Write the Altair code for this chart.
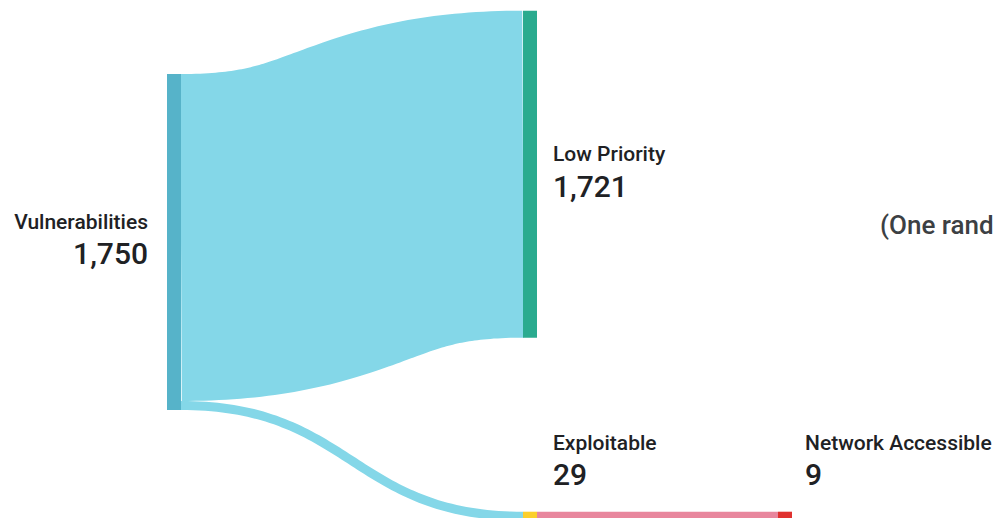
import altair as alt
import numpy as np
import pandas as pd

# ---- data ----
node_names = ["Vulnerabilities", "Low Priority", "Exploitable", "Network Accessible"]
node_values = [1750, 1721, 29, 9]
link_sources = ["Vulnerabilities", "Vulnerabilities", "Exploitable"]
link_targets = ["Low Priority", "Exploitable", "Network Accessible"]
link_values = [1721, 29, 9]
note_text = "(One rand"

# ---- style / layout ----
W, H = 985, 510
node_colors = ["#56b3c9", "#2aab8f", "#fbcf2c", "#e0312f"]
link_colors = ["#84d7e8", "#84d7e8", "#e8869d"]
node_x = [159, 515, 515, 770]
node_top = [66, 2.7, 503.7, 503.7]
NODE_W = 14
PX_PER_UNIT = 0.19
MIN_PX = 9
label_dx = [-19, 16, 16, 13]
TEXT_COLOR = "#202124"
FONT = "Roboto"
NAME_SIZE = 21
VALUE_SIZE = 30
NOTE_SIZE = 26

thick = [max(v * PX_PER_UNIT, MIN_PX) for v in link_values]
idx = {n: i for i, n in enumerate(node_names)}

out_sum = [0.0] * len(node_names)
in_sum = [0.0] * len(node_names)
link_rows = []
for s, t, v, th, c in zip(link_sources, link_targets, link_values, thick, link_colors):
    si, ti = idx[s], idx[t]
    y0 = node_top[si] + out_sum[si] + th / 2
    y1 = node_top[ti] + in_sum[ti] + th / 2
    out_sum[si] += th
    in_sum[ti] += th
    x0 = node_x[si] + NODE_W
    x1 = node_x[ti]
    link_rows.append((s + "→" + t, x0, y0, x1, y1, th, c))

node_h = [max(o, i) for o, i in zip(out_sum, in_sum)]

xs = alt.Scale(domain=[0, W], nice=False, zero=False)
ys = alt.Scale(domain=[0, H], nice=False, zero=False, reverse=True)

layers = []
for name, x0, y0, x1, y1, th, c in link_rows:
    tt = np.linspace(0, 1, 80)
    xm = (x0 + x1) / 2
    bx = (1 - tt) ** 3 * x0 + 3 * (1 - tt) ** 2 * tt * xm + 3 * (1 - tt) * tt ** 2 * xm + tt ** 3 * x1
    by = y0 + (y1 - y0) * (3 * tt ** 2 - 2 * tt ** 3)
    df = pd.DataFrame({"x": bx, "y": by, "o": np.arange(len(tt))})
    layers.append(
        alt.Chart(df).mark_line(strokeWidth=th, color=c, strokeCap="butt", interpolate="linear").encode(
            x=alt.X("x:Q", scale=xs, axis=None),
            y=alt.Y("y:Q", scale=ys, axis=None),
            order="o:O",
        )
    )

nodes_df = pd.DataFrame({
    "name": node_names,
    "x": node_x,
    "x2": [x + NODE_W for x in node_x],
    "y": node_top,
    "y2": [t + h for t, h in zip(node_top, node_h)],
    "color": node_colors,
})
layers.append(
    alt.Chart(nodes_df).mark_rect().encode(
        x=alt.X("x:Q", scale=xs, axis=None),
        x2="x2",
        y=alt.Y("y:Q", scale=ys, axis=None),
        y2="y2",
        color=alt.Color("color:N", scale=None),
    )
)

# labels: name + value, beside the node (centred) or above it when it sits at the bottom
lab_rows = []
for i, n in enumerate(node_names):
    if label_dx[i] < 0:
        lx = node_x[i] + label_dx[i]
        al = "right"
    else:
        lx = node_x[i] + NODE_W + label_dx[i]
        al = "left"
    if node_top[i] + node_h[i] < H - 20:
        cy = node_top[i] + node_h[i] / 2
        ny, vy = cy - 13, cy + 22.5
    else:
        ny, vy = node_top[i] - 62.2, node_top[i] - 27.2
    lab_rows.append({"name": n, "value": f"{node_values[i]:,}", "x": lx, "ny": ny, "vy": vy, "align": al})
lab_df = pd.DataFrame(lab_rows)

for al in ["left", "right"]:
    sub = lab_df[lab_df["align"] == al]
    layers.append(
        alt.Chart(sub).mark_text(align=al, baseline="alphabetic", font=FONT, fontSize=NAME_SIZE,
                                 fontWeight=500, color=TEXT_COLOR).encode(
            x=alt.X("x:Q", scale=xs, axis=None),
            y=alt.Y("ny:Q", scale=ys, axis=None),
            text="name:N",
        )
    )
    layers.append(
        alt.Chart(sub).mark_text(align=al, baseline="alphabetic", font=FONT, fontSize=VALUE_SIZE,
                                 fontWeight=500, color=TEXT_COLOR).encode(
            x=alt.X("x:Q", scale=xs, axis=None),
            y=alt.Y("vy:Q", scale=ys, axis=None),
            text="value:N",
        )
    )

note_df = pd.DataFrame({"t": [note_text], "x": [872], "y": [226]})
layers.append(
    alt.Chart(note_df).mark_text(align="left", baseline="alphabetic", font=FONT, fontSize=NOTE_SIZE,
                                 fontWeight=500, color="#3c4043").encode(
        x=alt.X("x:Q", scale=xs, axis=None),
        y=alt.Y("y:Q", scale=ys, axis=None),
        text="t:N",
    )
)

chart = alt.layer(*layers).properties(
    width=W, height=H, autosize=alt.AutoSizeParams(type="none"), padding=0
).configure(background="white").configure_view(stroke=None)

chart.save("out.html", embed_options={"renderer": "svg", "actions": False})
